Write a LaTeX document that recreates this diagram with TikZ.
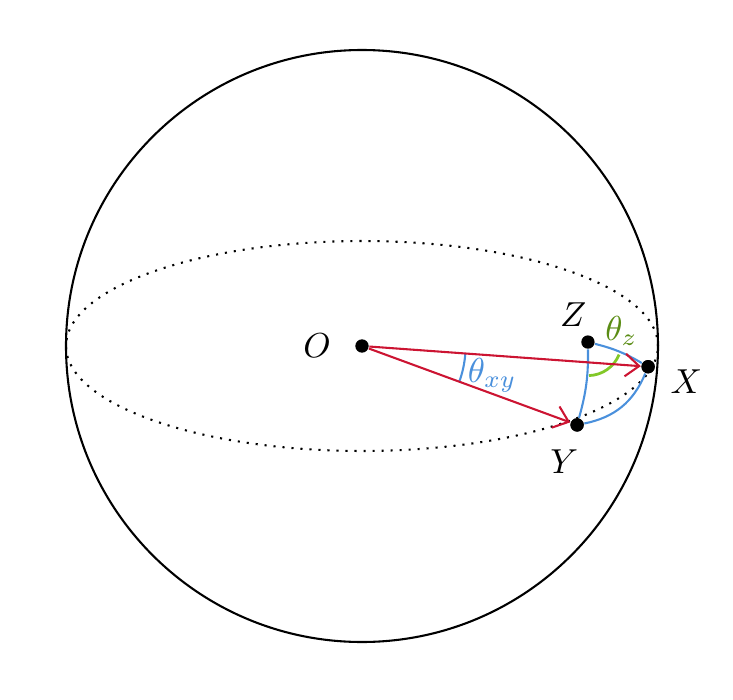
\documentclass[tikz,border=0pt]{standalone}
\usetikzlibrary{positioning, arrows.meta}

\definecolor{vecred}{RGB}{204,20,50}
\definecolor{arcblue}{RGB}{74,144,220}
\definecolor{anglegreen}{RGB}{130,200,40}
\definecolor{labelgreen}{RGB}{90,140,20}

\begin{document}
\begin{tikzpicture}[dot/.style = {circle, fill, inner sep = 0pt, minimum size = 0.135cm},
                    lbl/.style = {inner sep = 1pt},
                    vec/.style = {-{Straight Barb[length=4pt, width=6.5pt]}, vecred, semithick},
                    geo/.style = {arcblue, semithick}]
  \useasboundingbox (-3.669,-3.578) rectangle (3.760,3.507);

  % sphere and equator
  \draw[semithick] (0,0) circle (3);
  \draw[dotted, semithick] (0,0) ellipse (3 and 1.064);

  % points
  \node[dot] (O) at (0,0) {};
  \node[dot] (Z) at (2.29,0.04) {};
  \node[dot] (X) at (2.90,-0.21) {};
  \node[dot] (Y) at (2.18,-0.80) {};

  \node[lbl] (Olabel) [left=0.2cm of O] {$O$};
  \node[lbl] (Zlabel) [above=0.04cm of Z, xshift=-0.15cm] {$Z$};
  \node[lbl] (Xlabel) [right=0.11cm of X, yshift=-0.15cm] {$X$};
  \node[lbl] (Ylabel) [below=0.14cm of Y, xshift=-0.13cm] {$Y$};

  % spherical triangle
  \draw[geo] (Z) to[bend left=8] (X);
  \draw[geo] (Z) to[bend left=8] (Y);
  \draw[geo] (Y) to[bend right=28] (X);

  % angles
  \draw[anglegreen, thick] ([shift={(-22:0.34)}]Z.center) arc (-22:-88:0.34);
  \node[labelgreen] (thz) at (2.63,0.15) {$\theta_z$};
  \draw[geo] ([shift={(-4:1.05)}]O.center) arc (-4:-20:1.05);
  \node[arcblue] (thxy) at (1.32,-0.30) {$\theta_{xy}$};

  % vectors
  \draw[vec] (O) -- (X);
  \draw[vec] (O) -- (Y);

  \node[dot] at (X) {};
  \node[dot] at (Y) {};
\end{tikzpicture}
\end{document}
